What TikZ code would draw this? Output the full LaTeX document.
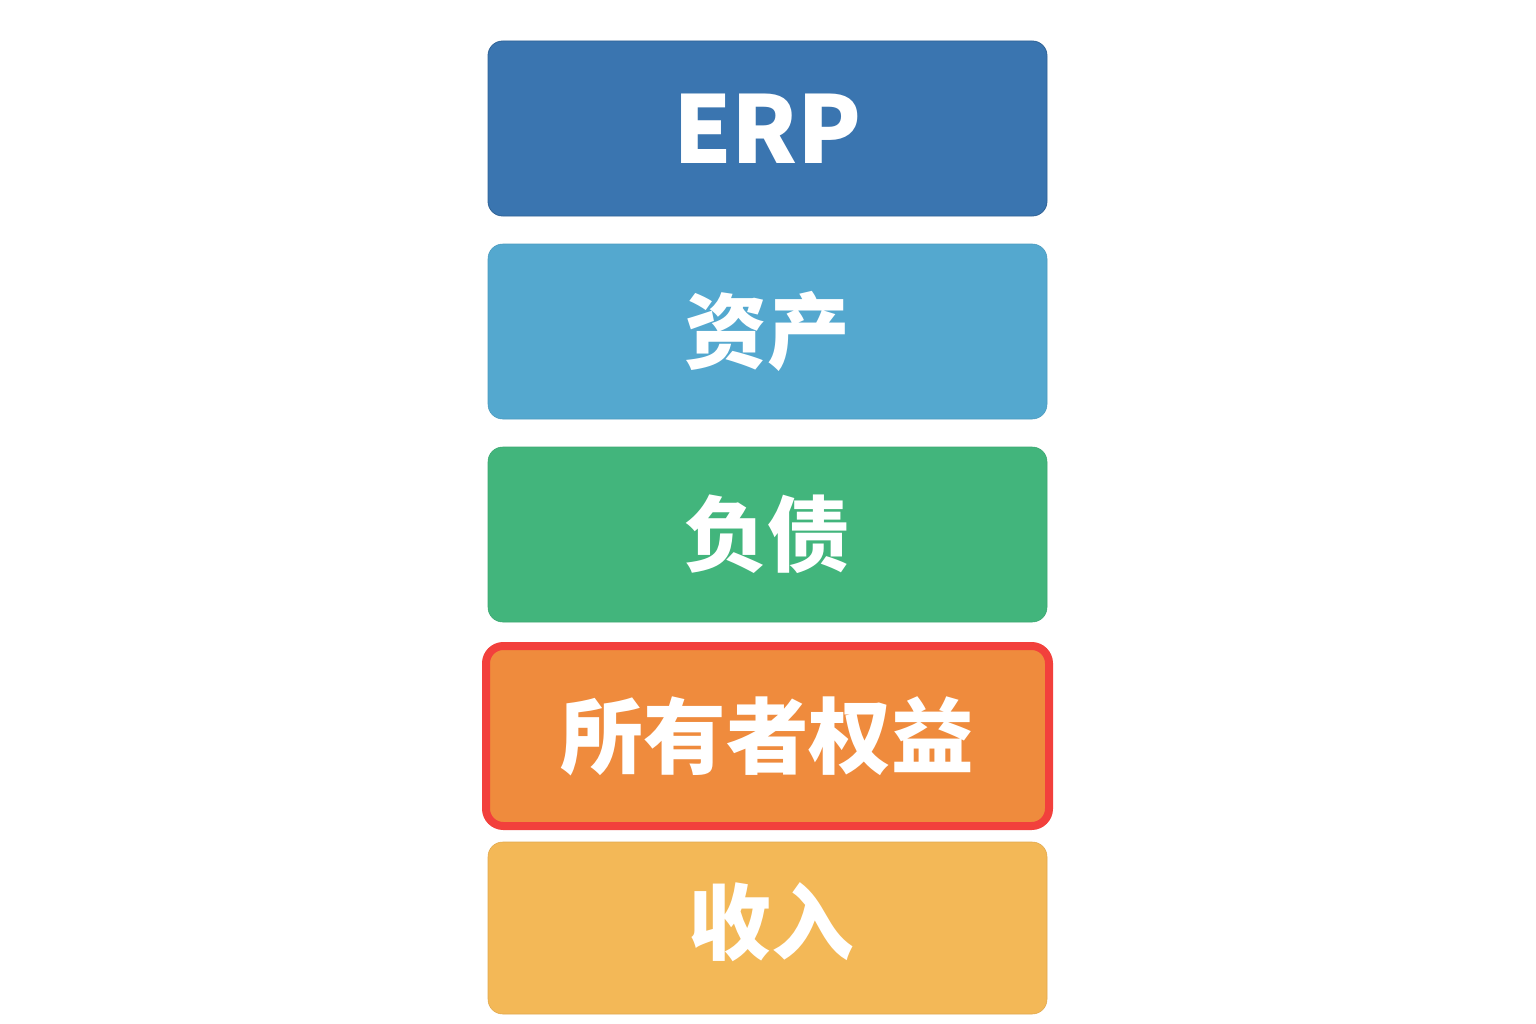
\documentclass[tikz,border=0pt]{standalone}
\usepackage{fontspec}
\newfontfamily\cjk{Noto Sans CJK SC}

\definecolor{erpblue}{RGB}{58,117,176}
\definecolor{assetblue}{RGB}{84,168,207}
\definecolor{debtgreen}{RGB}{66,181,124}
\definecolor{equityorange}{RGB}{239,139,61}
\definecolor{equityred}{RGB}{242,64,60}
\definecolor{incomeyellow}{RGB}{243,184,87}

\begin{document}
\begin{tikzpicture}[x=0.75pt,y=0.75pt,yscale=-1,xscale=1,
	layer/.style={rounded corners=11pt, minimum width=419.25pt, minimum height=131.25pt, inner sep=0pt, text=white, font=\cjk\bfseries\fontsize{62}{62}\selectfont},
	]
	\useasboundingbox (0,0) rectangle (1536,1024);
	% stacked boxes
	\node [layer, fill=erpblue, draw=erpblue!85!black, line width=0.6pt, font=\cjk\bfseries\fontsize{70}{70}\selectfont] (erp) at (767.5,128.5) {ERP};
	\node [layer, fill=assetblue, draw=assetblue!92!black, line width=0.4pt] (asset) at (767.5,331.5) {资产};
	\node [layer, fill=debtgreen, draw=debtgreen!92!black, line width=0.4pt] (debt) at (767.5,534.5) {负债};
	\node [layer, fill=equityorange, draw=equityred, line width=6pt, minimum width=422.25pt, minimum height=135pt, rounded corners=13pt] (equity) at (767.5,736) {所有者权益};
	\node [layer, fill=incomeyellow, draw=incomeyellow!92!black, line width=0.4pt, minimum height=129pt] (income) at (767.5,928) {};
	\node [text=white, inner sep=0pt, font=\cjk\bfseries\fontsize{62}{62}\selectfont] (incometext) at ([xshift=3pt,yshift=-4.5pt]income.center) {收入};
\end{tikzpicture}
\end{document}
